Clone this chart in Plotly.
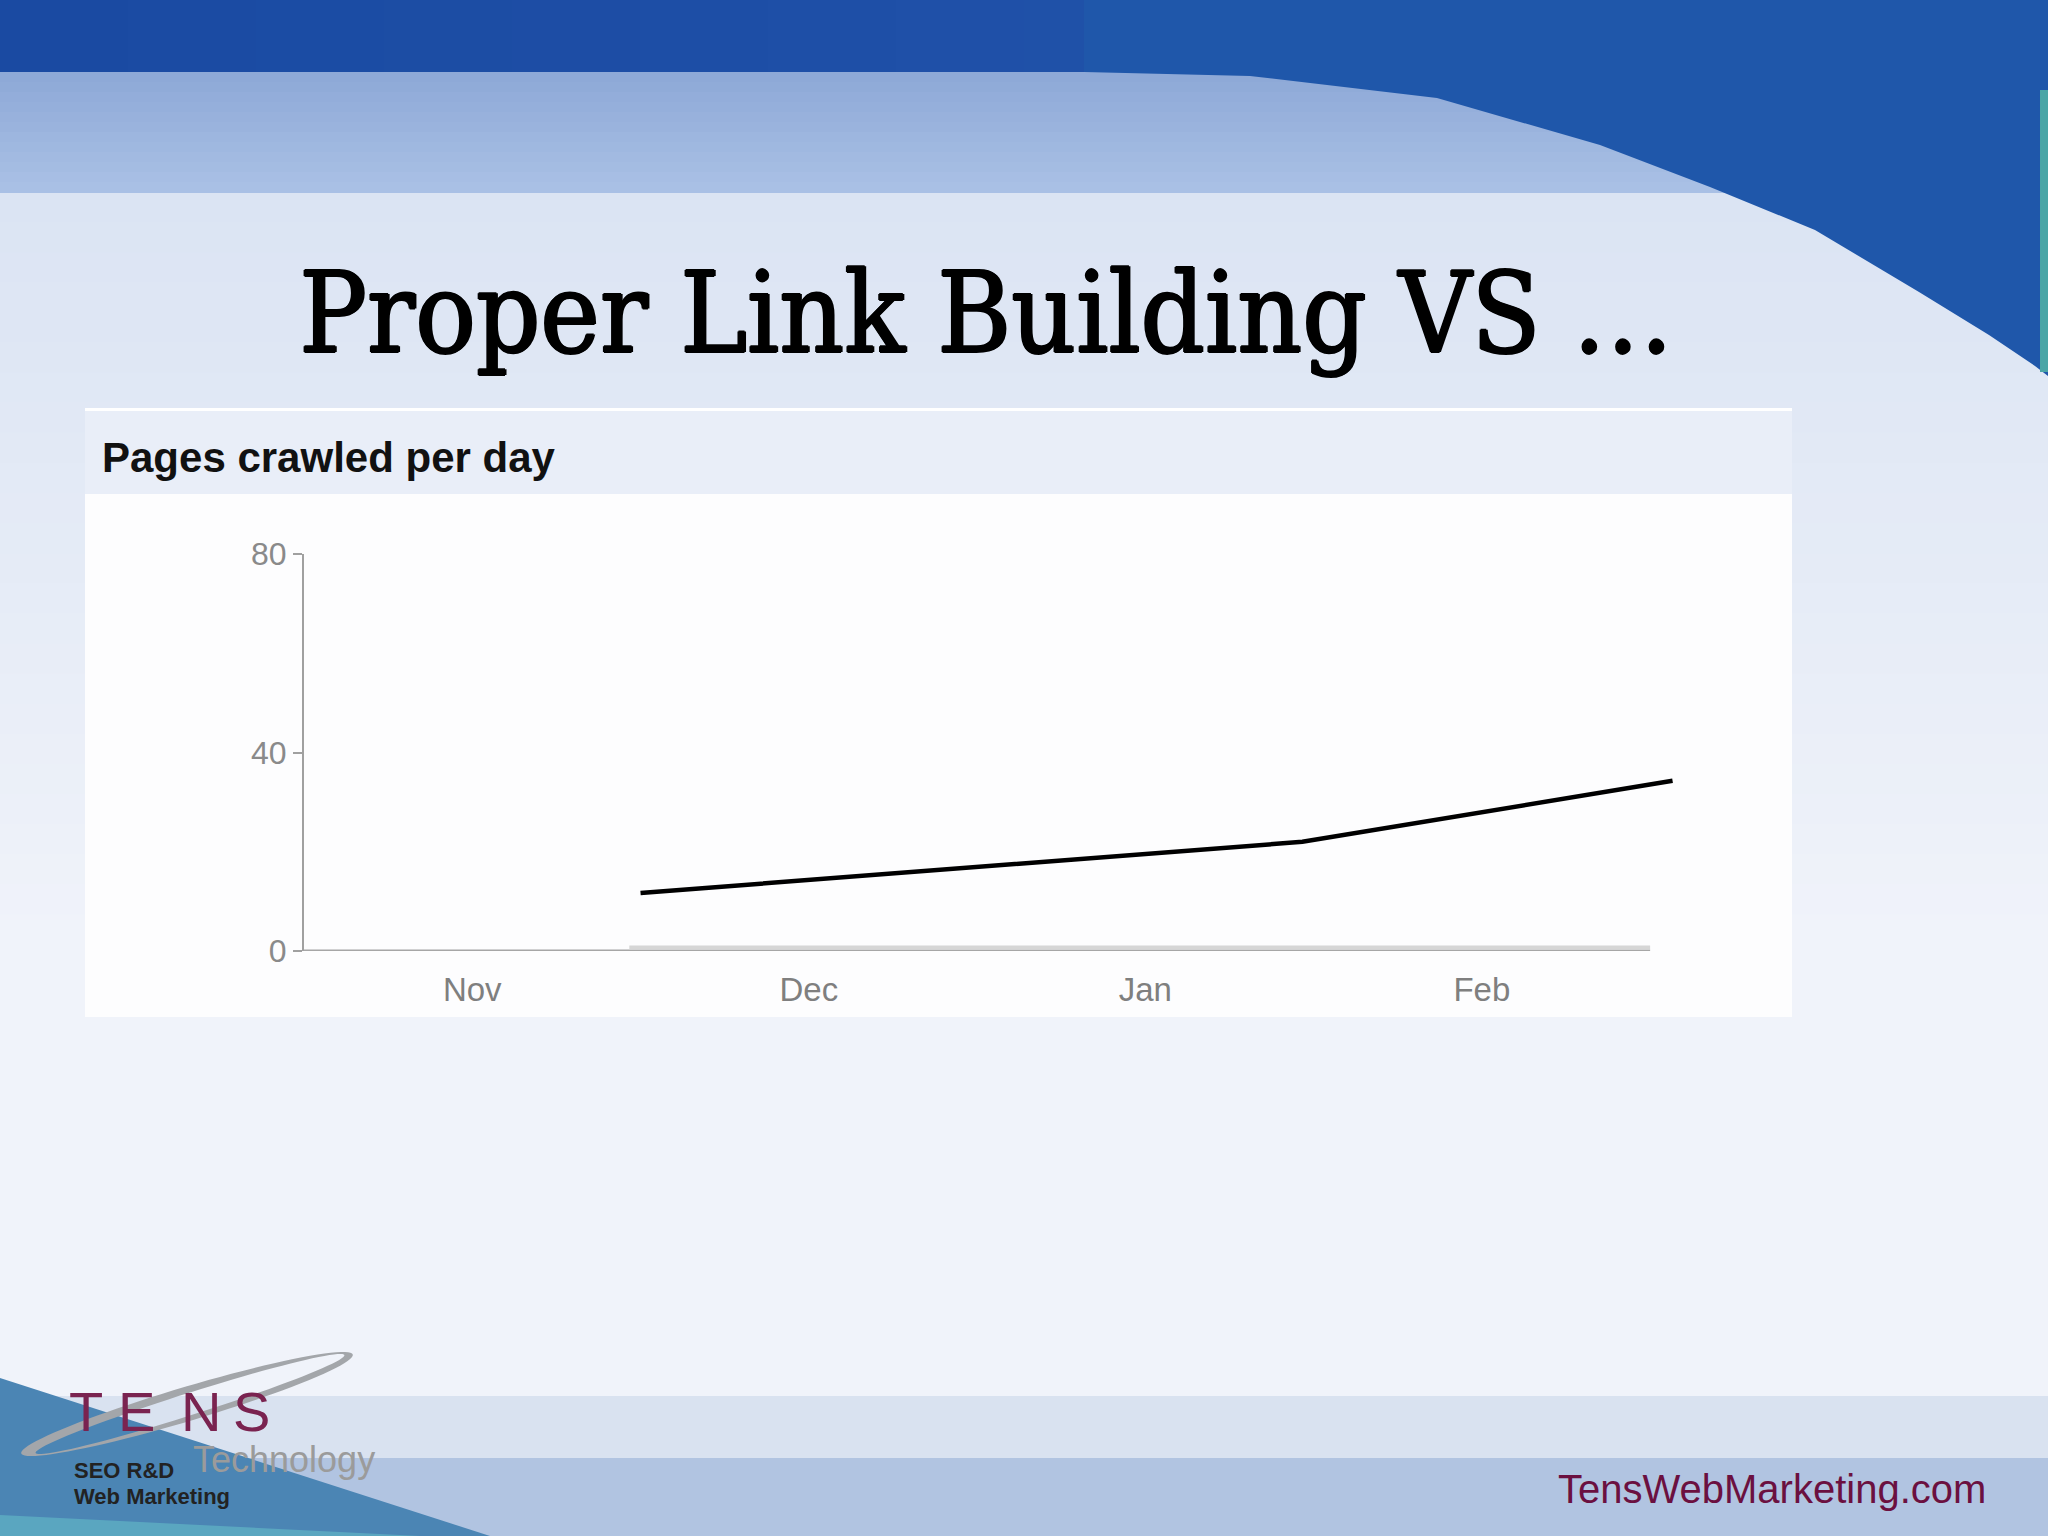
import numpy as np
import plotly.graph_objects as go

# ---------------- data ----------------
crawl_dates = ["2009-12-01", "2010-01-01", "2010-01-29", "2010-03-03"]
crawl_values = [11.7, 17.2, 22.0, 34.3]
base_dates = ["2009-11-30", "2010-03-01"]
base_values = [0.7, 0.7]
month_tick_dates = ["2009-11-16", "2009-12-16", "2010-01-15", "2010-02-14"]
month_tick_labels = ["Nov", "Dec", "Jan", "Feb"]
y_ticks = [0, 40, 80]
axis_start, axis_end = "2009-11-01", "2010-03-01"

W, H = 2048, 1536


def px(x):
    return x / W


def py(y):
    return 1 - y / H


def hexmix(c1, c2, t):
    a = [int(c1[i:i + 2], 16) for i in (1, 3, 5)]
    b = [int(c2[i:i + 2], 16) for i in (1, 3, 5)]
    return "#" + "".join("%02x" % round(a[i] + (b[i] - a[i]) * t) for i in range(3))


shapes = []


def rect(x0, y0, x1, y1, color, layer="below"):
    shapes.append(dict(type="rect", xref="paper", yref="paper",
                       x0=px(x0), x1=px(x1), y0=py(y1), y1=py(y0),
                       fillcolor=color, line=dict(width=0), layer=layer))


def poly(points, color, layer="below"):
    d = "M " + " L ".join("%.5f,%.5f" % (px(x), py(y)) for x, y in points) + " Z"
    shapes.append(dict(type="path", xref="paper", yref="paper", path=d,
                       fillcolor=color, line=dict(width=0), layer=layer))


# ---------------- slide background ----------------
n = 40
for i in range(n):
    y0 = 192 + (1396 - 192) * i / n
    y1 = 192 + (1396 - 192) * (i + 1) / n + 1
    t = i / (n - 1)
    rect(0, y0, W, y1, hexmix("#dbe4f3", "#f0f3fa", min(1, t * 1.6)))
for i in range(12):
    y0 = 72 + 120 * i / 12
    y1 = 72 + 120 * (i + 1) / 12 + 1
    rect(0, y0, W, y1, hexmix("#8ea9d7", "#a9c0e5", i / 11))
for i in range(16):
    x0 = W * i / 16
    x1 = W * (i + 1) / 16 + 1
    rect(x0, 0, x1, 72, hexmix("#1a4aa2", "#2457ae", i / 15))
swoosh = [(1084, 72), (1250, 76), (1437, 98), (1600, 145), (1710, 187),
          (1815, 230), (1919, 292), (1989, 335), (2035, 366), (2048, 376),
          (2048, 0), (1084, 0)]
poly(swoosh, "#1f57aa")
rect(2040, 90, 2048, 372, "#4aa5a6")
rect(0, 1396, W, 1458, "#d9e2f0")
rect(0, 1458, W, H, "#b1c4e1")
poly([(0, 1378), (490, 1536), (0, 1536)], "#4b85b4")
poly([(0, 1515), (420, 1536), (0, 1536)], "#5aa6c0")

# logo ring
cx, cy = 187, 1404
th = np.linspace(0, 2 * np.pi, 90)
a1, b1, r1 = 173, 17, np.deg2rad(16.6)
a2, b2, r2 = 162, 11, np.deg2rad(17.6)
outer = [(cx + a1 * np.cos(t) * np.cos(r1) - b1 * np.sin(t) * np.sin(r1),
          cy - (a1 * np.cos(t) * np.sin(r1) + b1 * np.sin(t) * np.cos(r1))) for t in th]
inner = [(cx + 3 + a2 * np.cos(t) * np.cos(r2) - b2 * np.sin(t) * np.sin(r2),
          cy - (a2 * np.cos(t) * np.sin(r2) + b2 * np.sin(t) * np.cos(r2))) for t in th[::-1]]
ring = "M " + " L ".join("%.5f,%.5f" % (px(x), py(y)) for x, y in outer) + " Z M " + \
       " L ".join("%.5f,%.5f" % (px(x), py(y)) for x, y in inner) + " Z"
shapes.append(dict(type="path", xref="paper", yref="paper", path=ring,
                   fillcolor="#a3a6aa", line=dict(width=0), layer="below"))

# chart panel
rect(85, 409, 1792, 494, "#e9eef8")
rect(85, 408, 1792, 411, "#ffffff")
rect(85, 494, 1792, 1017, "#fdfdfe")
shapes.append(dict(type="line", xref="x", yref="y", x0=axis_start, x1=axis_end,
                   y0=0, y1=0, line=dict(color="#a6a6a6", width=3), layer="below"))

# ---------------- traces ----------------
fig = go.Figure()
fig.add_trace(go.Scatter(x=base_dates, y=base_values, mode="lines",
                         line=dict(color="#d6d6d6", width=4), hoverinfo="skip"))
fig.add_trace(go.Scatter(x=crawl_dates, y=crawl_values, mode="lines",
                         line=dict(color="#000000", width=4.5), hoverinfo="skip"))

sans = "Liberation Sans, Arial, sans-serif"
annotations = [
    dict(text="Proper Link Building VS …", x=px(986), y=py(313), xanchor="center",
         yanchor="middle",
         font=dict(family="DejaVu Serif Condensed, DejaVu Serif, serif", size=112, color="#000000",
                   shadow="1.5px 0 0 #000, -1px 0 0 #000, 0 1px 0 #000, 0 -1px 0 #000")),
    dict(text="<b>Pages crawled per day</b>", x=px(100), y=py(457), xanchor="left",
         yanchor="middle", font=dict(family=sans, size=42, color="#111111")),
    dict(text="TensWebMarketing.com", x=px(1772), y=py(1489), xanchor="center",
         yanchor="middle", font=dict(family=sans, size=40, color="#6b1040")),
    dict(text="Technology", x=px(284), y=py(1459), xanchor="center",
         yanchor="middle", font=dict(family=sans, size=36, color="#9b9b9b")),
    dict(text="<b>SEO R&amp;D</b>", x=px(72), y=py(1470), xanchor="left",
         yanchor="middle", font=dict(family=sans, size=22, color="#222222")),
    dict(text="<b>Web Marketing</b>", x=px(72), y=py(1496), xanchor="left",
         yanchor="middle", font=dict(family=sans, size=22, color="#222222")),
]
for ch, cxx in zip("TENS", [86, 136, 201, 251]):
    annotations.append(dict(text=ch, x=px(cxx), y=py(1411), xanchor="center", yanchor="middle",
                            font=dict(family=sans, size=56, color="#7a2350")))
for a in annotations:
    a.update(xref="paper", yref="paper", showarrow=False)

fig.update_layout(
    width=W, height=H, margin=dict(l=0, r=0, t=0, b=0, pad=0, autoexpand=False),
    paper_bgcolor="#e6ecf6", plot_bgcolor="rgba(0,0,0,0)",
    showlegend=False, shapes=shapes, annotations=annotations,
    xaxis=dict(type="date", range=["2009-11-01", "2010-03-05"],
               domain=[px(304), px(1695)], showline=False, showgrid=False, zeroline=False,
               tickmode="array", tickvals=month_tick_dates, ticktext=month_tick_labels,
               ticks="outside", ticklen=9, tickcolor="rgba(0,0,0,0)", automargin=False,
               tickfont=dict(family=sans, size=33, color="#7f7f7f")),
    yaxis=dict(range=[0, 80], domain=[py(951), py(554)], tickmode="array", tickvals=y_ticks,
               showline=True, linecolor="#a0a0a0", linewidth=2, showgrid=False, zeroline=False,
               ticks="outside", ticklen=9, tickwidth=2, tickcolor="#a0a0a0", automargin=False,
               tickfont=dict(family=sans, size=32, color="#8a8a8a")),
)

fig.write_html("out.html", config={"displayModeBar": False},
               post_script="document.body.style.margin='0';")
